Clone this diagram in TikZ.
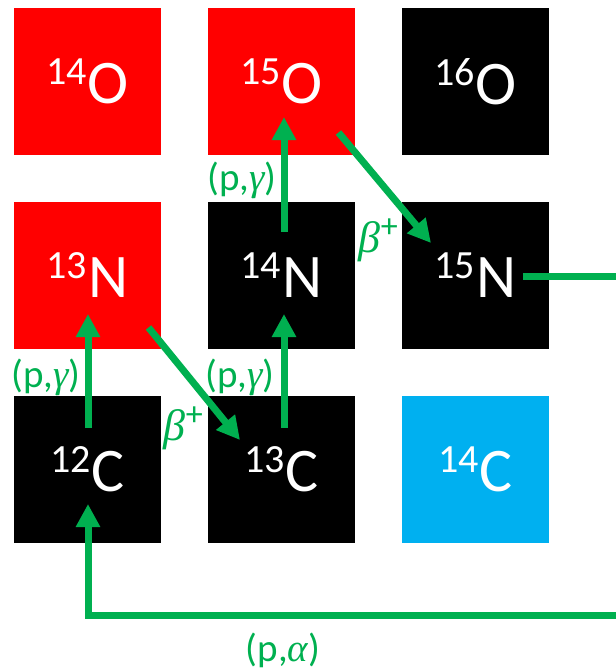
\documentclass[tikz,border=0pt]{standalone}
\usepackage{fontspec}
\setmainfont{Carlito}
\newfontfamily\grk{Liberation Serif}
\usetikzlibrary{arrows.meta,calc}
\definecolor{nucred}{HTML}{FF0000}
\definecolor{nucblue}{HTML}{00B0F0}
\definecolor{flow}{HTML}{00B050}
\newcommand{\iso}[2]{\raisebox{19pt}{\fontsize{40}{40}\selectfont #1}\kern1pt#2}
\newcommand{\gk}[1]{{\grk\itshape #1}}
\newcommand{\betaplus}{{\fontsize{44}{44}\selectfont\gk{β}}\kern1pt\raisebox{15pt}{\fontsize{34}{34}\selectfont +}}
\tikzset{
  nuc/.style={minimum width=147pt, minimum height=147pt, inner sep=0pt,
    text=white, font=\fontsize{62}{62}\selectfont},
  stable/.style={nuc, fill=black},
  unstable/.style={nuc, fill=nucred},
  heavy/.style={nuc, fill=nucblue},
  react/.style={draw=flow, line width=7pt, -{Triangle[width=23pt,length=23pt]}},
  rlabel/.style={text=flow, inner sep=0pt, font=\fontsize{39}{39}\selectfont}
}
\begin{document}
\begin{tikzpicture}[x=1pt,y=1pt]
  \useasboundingbox (0,0) rectangle (616,-670);
  \clip (0,0) rectangle (616,-670);
  % isotope grid
  \node[unstable] (o14) at (87.5,-81.5)  {\iso{14}{O}};
  \node[unstable] (o15) at (281.5,-81.5) {\iso{15}{O}};
  \node[stable]   (o16) at (475.5,-81.5) {\iso{16}{O}};
  \node[unstable] (n13) at (87.5,-275.5)  {\iso{13}{N}};
  \node[stable]   (n14) at (281.5,-275.5) {\iso{14}{N}};
  \node[stable]   (n15) at (475.5,-275.5) {\iso{15}{N}};
  \node[stable]   (c12) at (87.5,-469.5)  {\iso{12}{C}};
  \node[stable]   (c13) at (281.5,-469.5) {\iso{13}{C}};
  \node[heavy]    (c14) at (475.5,-469.5) {\iso{14}{C}};
  % proton captures
  \draw[react] ($(c12.center)+(0.5,41.5)$) -- ($(n13.center)+(0.5,-38.5)$);
  \draw[react] ($(c13.center)+(2.5,41.5)$) -- ($(n14.center)+(2.5,-38.5)$);
  \draw[react] ($(n14.center)+(2.5,43.5)$) -- ($(o15.center)+(2.5,-35.5)$);
  % beta decays
  \draw[react] ($(n13.center)+(61,-52)$) -- ($(c13.center)+(-41.5,29.5)$);
  \draw[react] ($(o15.center)+(57,-51)$) -- ($(n15.center)+(-44.5,32.5)$);
  % (p,alpha) return path
  \coordinate (loopR) at (645,-615);
  \draw[react] ($(n15.center)+(47.5,-0.5)$) -| (loopR) -| ($(c12.center)+(0.5,-34.5)$);
  % labels
  \node[rlabel] (l1) at (46,-377)  {(p,\gk{γ})};
  \node[rlabel] (l2) at (240,-377) {(p,\gk{γ})};
  \node[rlabel] (l3) at (242,-180) {(p,\gk{γ})};
  \node[rlabel] (l4) at (183,-428) {\betaplus};
  \node[rlabel] (l5) at (378,-240) {\betaplus};
  \node[rlabel] (l6) at (283,-650) {(p,\gk{α})};
\end{tikzpicture}
\end{document}
